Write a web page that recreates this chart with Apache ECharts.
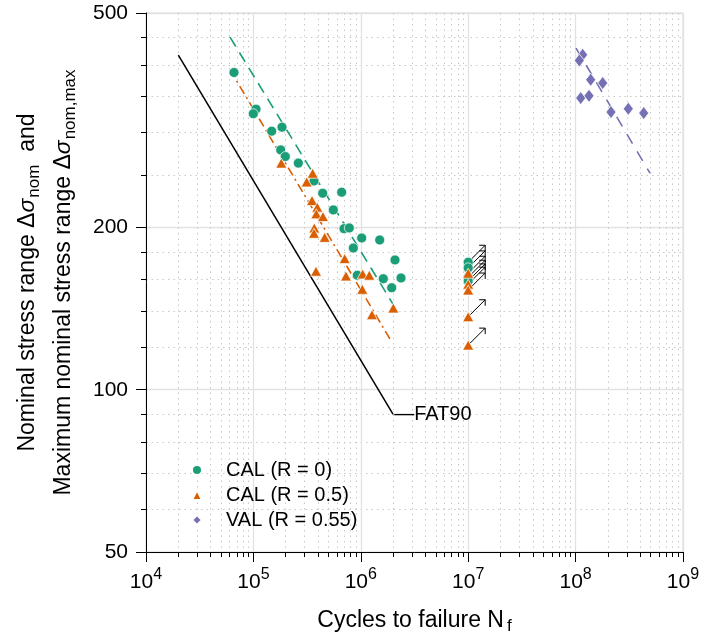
<!DOCTYPE html>
<html><head><meta charset="utf-8">
<script src="https://cdn.jsdelivr.net/npm/echarts@6/dist/echarts.min.js"></script>
<style>html,body{margin:0;padding:0;background:#fff}#c{width:714px;height:637px}</style>
</head><body><div id="c"></div>
<script>
// ---- data (cycles N, stress range S) ----
const calR0 = [
  [65980,387.8],[105700,331.6],[99800,325.1],[148100,301.8],[184600,307.0],[179600,278.6],
  [198200,270.8],[261900,263.3],[366600,244.0],[441800,231.5],[664000,232.5],[554600,215.6],
  [697500,199.0],[781500,199.6],[1019600,191.2],[1500000,189.6],[851800,183.2],[2082000,174.1],
  [928000,163.1],[1620000,160.7],[2368000,161.2],[1940000,154.6]
];
const calR0Runout = [[1e7,172.4],[1e7,168.3],[1e7,161.7],[1e7,159.2]];
const calR05 = [
  [181900,263.3],[356500,252.2],[313500,243.0],[351300,224.4],[393600,218.1],[385300,212.0],
  [444600,209.6],[369000,199.6],[366600,195.1],[461200,191.8],[708100,175.1],[382800,165.9],
  [728100,162.6],[1041600,164.0],[1200000,163.1],[1032700,153.6],[2007000,141.8],[1271000,137.8]
];
const calR05Runout = [[1e7,164.5],[1e7,157.0],[1e7,153.1],[1e7,136.6],[1e7,121.0]];
const valR055 = [
  [116400000,418.2],[108300000,408.3],[138200000,375.9],[178800000,370.7],[111600000,347.6],
  [133300000,351.0],[213600000,327.4],[309500000,332.1],[430700000,326.0]
];
const fitR0 = [[60560,451],[1994000,144.2]];
const fitR05 = [[60560,392.4],[1940000,122.7]];
const fitVAL = [[100860000,430.5],[493000000,252.2]];
const fat90 = [[2e4,417.7],[2e6,90]];
const xMajor = [1e4,1e5,1e6,1e7,1e8,1e9];
const xMinor = [];
for (let k = 4; k <= 8; k++) for (let m = 2; m <= 9; m++) xMinor.push(m * Math.pow(10, k));
const yMajor = [50,100,200,500];
const yMinor = [60,70,80,90,120,140,160,180,250,300,350,400,450];
const legendNames = ['CAL (R = 0)','CAL (R = 0.5)','VAL (R = 0.55)'];

const C_G = '#1b9e77', C_O = '#d95f02', C_P = '#7570b3';
const FONT = '"Liberation Sans", Arial, Helvetica, sans-serif';

const chart = echarts.init(document.getElementById('c'), null, {renderer:'canvas'});

function xLabel(v){ return '{b|10}{s|' + Math.round(Math.log10(v)) + '}'; }

const option = {
  animation:false,
  textStyle:{fontFamily:FONT, color:'#000'},
  grid:{left:146, right:31, top:13, bottom:85, show:true, borderColor:'#d6d6d6', borderWidth:1, outerBoundsMode:'none', containLabel:false},
  legend:{
    orient:'vertical', left:186, top:455, itemWidth:10, itemHeight:10, itemGap:5,
    textStyle:{fontSize:20, color:'#000', fontFamily:FONT, padding:[0,0,0,19]},
    data:[{name:legendNames[0],icon:'circle'},{name:legendNames[1],icon:'triangle'},{name:legendNames[2],icon:'diamond'}],
    selectedMode:false
  },
  xAxis:[
    {type:'log', logBase:10, min:1e4, max:1e9, position:'bottom',
     name:'{n|Cycles to failure N}{sub|f}', nameLocation:'middle', nameGap:54,
     nameTextStyle:{rich:{
       n:{fontSize:23, fontFamily:FONT, color:'#000', lineHeight:30},
       sub:{fontSize:17, fontFamily:FONT, color:'#000', lineHeight:20, padding:[10,0,0,3]}
     }},
     axisLine:{show:true, lineStyle:{color:'#000', width:1}},
     axisTick:{show:true, length:10, inside:false, customValues:xMajor, lineStyle:{color:'#000'}},
     axisLabel:{customValues:xMajor, margin:14, formatter:xLabel, rich:{
       b:{fontSize:21, fontFamily:FONT, color:'#000', lineHeight:32},
       s:{fontSize:16, fontFamily:FONT, color:'#000', lineHeight:17, padding:[0,0,15,0]}
     }},
     splitLine:{show:true, lineStyle:{color:'#e2e2e2', width:1.3}}
    },
    {type:'log', logBase:10, min:1e4, max:1e9, position:'bottom',
     axisLine:{show:false},
     axisTick:{show:true, length:5, inside:false, customValues:xMinor, lineStyle:{color:'#000'}},
     axisLabel:{show:false},
     splitLine:{show:true, lineStyle:{color:'#c8c8c8', width:1, type:[1.5,4]}}
    }
  ],
  yAxis:[
    {type:'log', logBase:10, min:50, max:500, position:'left',
     name:'{n|Nominal stress range Δ}{i|σ}{sub|nom}{n|  and}\n{n|Maximum nominal stress range Δ}{i|σ}{sub|nom,max}',
     nameLocation:'middle', nameRotate:90, nameGap:64,
     nameTextStyle:{align:'center', rich:{
       n:{fontSize:23, fontFamily:FONT, color:'#000', lineHeight:36},
       i:{fontSize:23, fontFamily:FONT, color:'#000', lineHeight:36, fontStyle:'italic'},
       sub:{fontSize:17, fontFamily:FONT, color:'#000', lineHeight:24, padding:[12,0,0,1]}
     }},
     axisLine:{show:true, lineStyle:{color:'#000', width:1}},
     axisTick:{show:true, length:10, inside:false, customValues:yMajor, lineStyle:{color:'#000'}},
     axisLabel:{customValues:yMajor, margin:18, fontSize:21, color:'#000', fontFamily:FONT},
     splitLine:{show:true, lineStyle:{color:'#e2e2e2', width:1.3}}
    },
    {type:'log', logBase:10, min:50, max:500, position:'left',
     axisLine:{show:false},
     axisTick:{show:true, length:5, inside:false, customValues:yMinor, lineStyle:{color:'#000'}},
     axisLabel:{show:false},
     splitLine:{show:true, lineStyle:{color:'#c8c8c8', width:1, type:[1.5,4]}}
    }
  ],
  series:[
    {name:'FAT90', type:'line', data:fat90, showSymbol:false, symbol:'none', silent:true,
     lineStyle:{color:'#000', width:1.5},
     endLabel:{show:true, formatter:'—FAT90', fontSize:20, color:'#000', fontFamily:FONT, distance:1}},
    {name:'fitR0', type:'line', data:fitR0, symbol:'none', silent:true,
     lineStyle:{color:C_G, width:1.6, type:[11,7]}},
    {name:'fitR05', type:'line', data:fitR05, symbol:'none', silent:true,
     lineStyle:{color:C_O, width:1.6, type:[9,4,2,4]}},
    {name:'fitVAL', type:'line', data:fitVAL, symbol:'none', silent:true,
     lineStyle:{color:C_P, width:1.6, type:[11,9]}},
    {name:'runouts', type:'custom', data:calR0Runout.concat(calR05Runout), clip:false, silent:true, z:3,
     renderItem:function(params, api){
       const p = api.coord([api.value(0), api.value(1)]);
       const x0 = p[0]+2, y0 = p[1]-2, x1 = p[0]+17, y1 = p[1]-17;
       return {type:'group', children:[
         {type:'line', shape:{x1:x0,y1:y0,x2:x1,y2:y1}, style:{stroke:'#000', lineWidth:1}},
         {type:'polyline', shape:{points:[[x1-6,y1],[x1,y1],[x1,y1+6]]}, style:{stroke:'#000', fill:null, lineWidth:1}}
       ]};
     }},
    {name:legendNames[0], type:'scatter', data:calR0.concat(calR0Runout), symbol:'circle', symbolSize:10,
     itemStyle:{color:C_G, borderColor:'#fff', borderWidth:0.7, opacity:1}, z:4},
    {name:legendNames[1], type:'scatter', data:calR05.concat(calR05Runout), symbol:'triangle', symbolSize:[11,10],
     itemStyle:{color:C_O, borderColor:'#fff', borderWidth:0.7, opacity:1}, z:4},
    {name:legendNames[2], type:'scatter', data:valR055, symbol:'diamond', symbolSize:[10,13],
     itemStyle:{color:C_P, borderColor:'#fff', borderWidth:0.7, opacity:1}, z:4}
  ]
};
chart.setOption(option);
</script>
</body></html>
